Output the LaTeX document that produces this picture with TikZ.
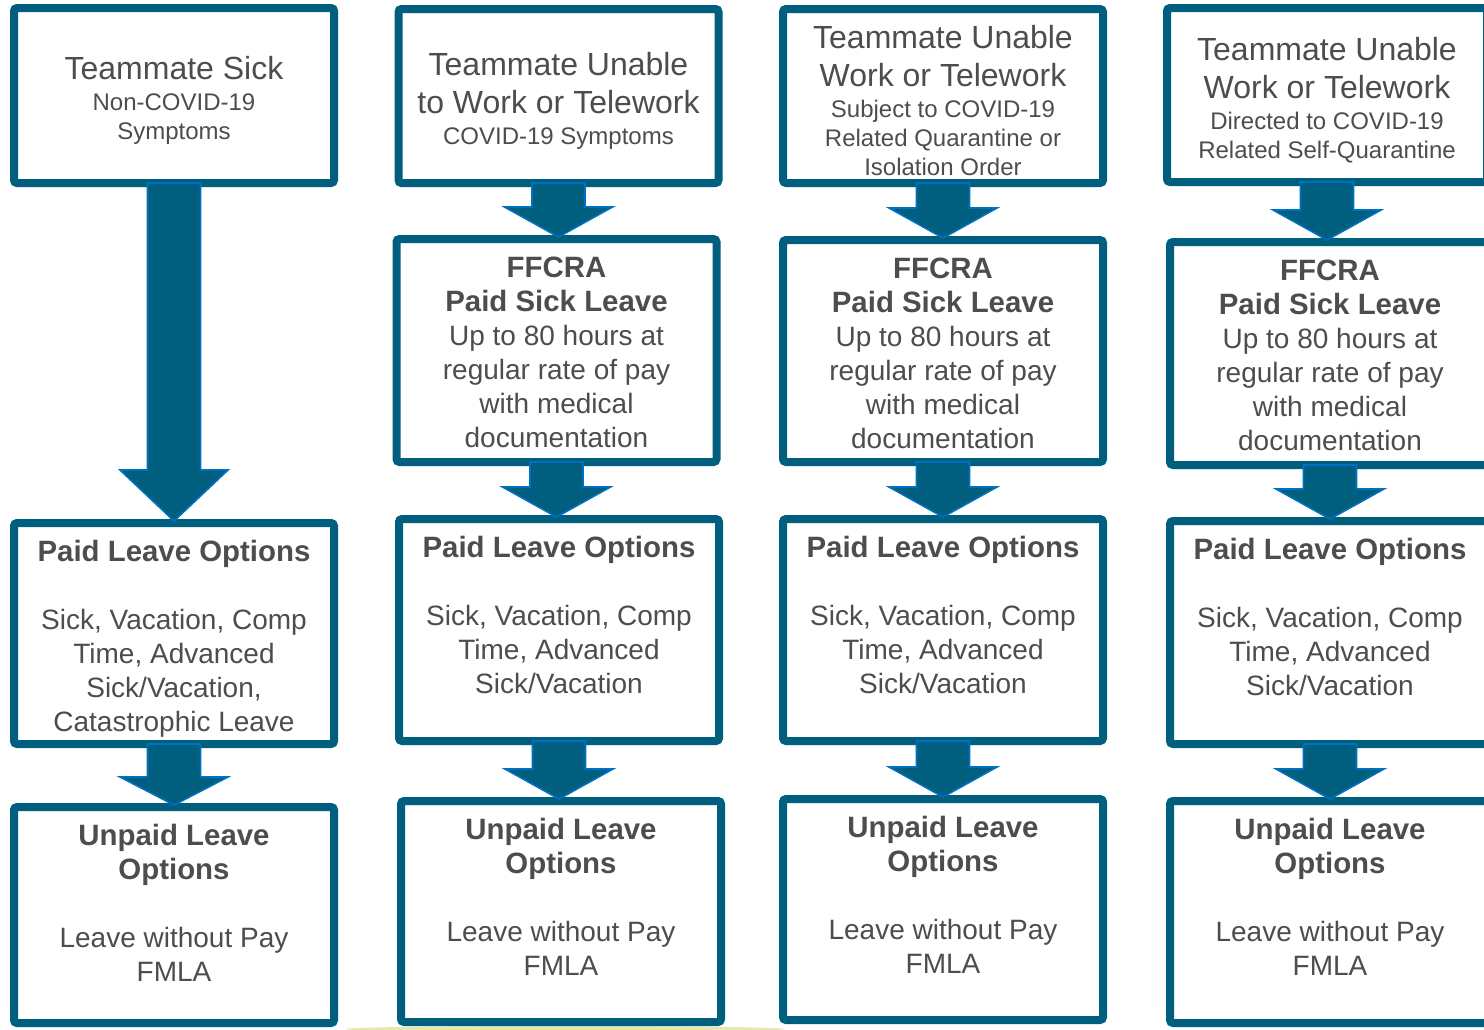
\documentclass[tikz,border=0pt]{standalone}
\usepackage{fontspec}
\setmainfont{Liberation Sans}
\usetikzlibrary{calc}
\definecolor{boxblue}{RGB}{0,95,127}
\definecolor{edgeblue}{RGB}{0,112,192}
\definecolor{txtgray}{RGB}{77,77,77}
\definecolor{glow}{RGB}{205,212,95}
\newcommand{\bigtxt}{\fontsize{16}{19}\selectfont}
\newcommand{\subtxt}{\fontsize{12}{14.5}\selectfont}
\newcommand{\ttl}{\bfseries\fontsize{14.7}{17}\selectfont}
\newcommand{\toptext}[2]{\parbox[c][#1][c]{160pt}{\centering\vspace*{5pt}#2}}
\newcommand{\lowtext}[2]{\parbox[c][#1][t]{160pt}{\centering\fontsize{14}{17}\selectfont\rule{0pt}{19pt}#2}}
\newcommand{\blockarr}[3]{%
	\filldraw[blockarrow] let \p1=(#1.south), \p2=(#2.north) in
	(\x1-13.25pt,\y1+2pt) -- (\x1-13.25pt,\y2-1pt+#3) -- (\x1-27pt,\y2-1pt+#3)
	-- (\x1,\y2-1pt) -- (\x1+27pt,\y2-1pt+#3) -- (\x1+13.25pt,\y2-1pt+#3)
	-- (\x1+13.25pt,\y1+2pt) -- cycle;}
\begin{document}
\begin{tikzpicture}[x=0.5pt,y=-0.5pt,
	leave/.style={draw=boxblue,line width=4pt,fill=white,rounded corners=1.5pt,inner sep=0pt,text=txtgray},
	blockarrow/.style={fill=boxblue,draw=edgeblue,line width=0.8pt,line join=miter}]
	\useasboundingbox (0,0) rectangle (1484,1029);
	\fill[white] (0,0) rectangle (1484,1029);
	\clip (0,0) rectangle (1484,1029);
	\fill[glow,opacity=.5] (565,1029) ellipse (220 and 3);
	% column 1
	\node[leave] (t1) at (174,95.5){\toptext{87.5pt}{{\bigtxt Teammate Sick\par}\vspace{1pt}{\subtxt Non-COVID-19\\Symptoms\par}}};
	\node[leave] (p1) at (174,633.5){\lowtext{110.5pt}{{\ttl Paid Leave Options}\\[17pt]Sick, Vacation, Comp\\Time, Advanced\\Sick/Vacation,\\Catastrophic Leave}};
	\node[leave] (u1) at (174,915){\lowtext{108pt}{{\ttl Unpaid Leave\\Options}\\[17pt]Leave without Pay\\FMLA}};
	% column 2
	\node[leave] (t2) at (558.5,96){\toptext{87pt}{{\bigtxt Teammate Unable\\to Work or Telework\par}\vspace{1pt}{\subtxt COVID-19 Symptoms\par}}};
	\node[leave] (f2) at (556.5,350.5){\lowtext{111.5pt}{{\ttl FFCRA\\Paid Sick Leave}\\Up to 80 hours at\\regular rate of pay\\with medical\\documentation}};
	\node[leave] (p2) at (559,630){\lowtext{111pt}{{\ttl Paid Leave Options}\\[17pt]Sick, Vacation, Comp\\Time, Advanced\\Sick/Vacation}};
	\node[leave] (u2) at (561,911.5){\lowtext{110.5pt}{{\ttl Unpaid Leave\\Options}\\[17pt]Leave without Pay\\FMLA}};
	% column 3
	\node[leave] (t3) at (943,96){\toptext{87pt}{{\bigtxt Teammate Unable\\Work or Telework\par}\vspace{1pt}{\subtxt Subject to COVID-19\\Related Quarantine or\\Isolation Order\par}}};
	\node[leave] (f3) at (943,351){\lowtext{111pt}{{\ttl FFCRA\\Paid Sick Leave}\\Up to 80 hours at\\regular rate of pay\\with medical\\documentation}};
	\node[leave] (p3) at (943,630){\lowtext{111pt}{{\ttl Paid Leave Options}\\[17pt]Sick, Vacation, Comp\\Time, Advanced\\Sick/Vacation}};
	\node[leave] (u3) at (943,909.5){\lowtext{110.5pt}{{\ttl Unpaid Leave\\Options}\\[17pt]Leave without Pay\\FMLA}};
	% column 4
	\node[leave] (t4) at (1327,95){\toptext{87pt}{{\bigtxt Teammate Unable\\Work or Telework\par}\vspace{1pt}{\subtxt Directed to COVID-19\\Related Self-Quarantine\par}}};
	\node[leave] (f4) at (1330,353.5){\lowtext{111.5pt}{{\ttl FFCRA\\Paid Sick Leave}\\Up to 80 hours at\\regular rate of pay\\with medical\\documentation}};
	\node[leave] (p4) at (1330,632.5){\lowtext{111.5pt}{{\ttl Paid Leave Options}\\[17pt]Sick, Vacation, Comp\\Time, Advanced\\Sick/Vacation}};
	\node[leave] (u4) at (1330,912){\lowtext{111pt}{{\ttl Unpaid Leave\\Options}\\[17pt]Leave without Pay\\FMLA}};
	% arrows
	\blockarr{t1}{p1}{25.5pt}
	\blockarr{p1}{u1}{14pt}
	\blockarr{t2}{f2}{15pt}
	\blockarr{f2}{p2}{15pt}
	\blockarr{p2}{u2}{15pt}
	\blockarr{t3}{f3}{15pt}
	\blockarr{f3}{p3}{15pt}
	\blockarr{p3}{u3}{15pt}
	\blockarr{t4}{f4}{15pt}
	\blockarr{f4}{p4}{15pt}
	\blockarr{p4}{u4}{15pt}
\end{tikzpicture}
\end{document}
